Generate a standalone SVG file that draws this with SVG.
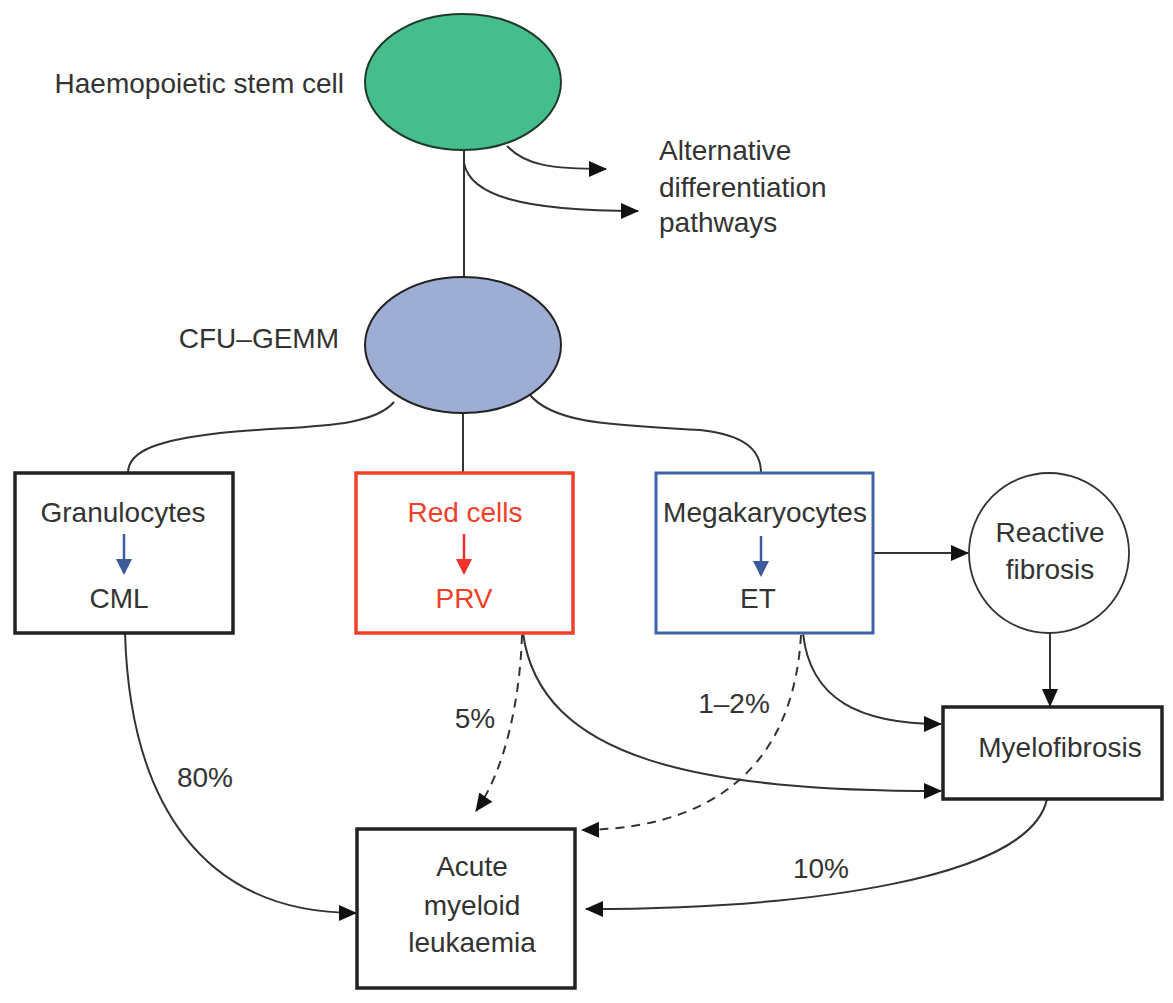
<svg xmlns="http://www.w3.org/2000/svg" width="1173" height="1003" viewBox="0 0 1173 1003">
<defs>
<style>
text{font-family:"Liberation Sans",Arial,sans-serif;font-size:28px;fill:#333;}
.c{text-anchor:middle;}
.red{fill:#f0402a;}
.ln{fill:none;stroke:#333;stroke-width:2;}
.dash{stroke-dasharray:9,7;}
.box{fill:#fff;stroke:#222;stroke-width:3.5;}
</style>
<marker id="ah" markerUnits="userSpaceOnUse" markerWidth="18" markerHeight="16" refX="17" refY="8" orient="auto">
<path d="M0,0 L18,8 L0,16 z" fill="#111"/>
</marker>
<marker id="ahb" markerUnits="userSpaceOnUse" markerWidth="16" markerHeight="16" refX="8" refY="14" orient="0">
<path d="M0,0 L16,0 L8,16 z" fill="#3d5a9a"/>
</marker>
<marker id="ahr" markerUnits="userSpaceOnUse" markerWidth="16" markerHeight="16" refX="8" refY="14" orient="0">
<path d="M0,0 L16,0 L8,16 z" fill="#f0302a"/>
</marker>
</defs>
<rect width="1173" height="1003" fill="#fff"/>

<g id="connectors">
<path class="ln" d="M464,150 L464,277"/>
<path class="ln" d="M507,146 C525,165 550,169 606,169" marker-end="url(#ah)"/>
<path class="ln" d="M464,163 C470,195 520,211 638,211" marker-end="url(#ah)"/>
<path class="ln" d="M394,402 C370,430 300,425 220,433 C160,440 128,450 128,473"/>
<path class="ln" d="M463,413 L463,473"/>
<path class="ln" d="M530,395 C555,425 620,425 700,430 C745,435 761,450 761,473"/>
<path class="ln" d="M873,553 L968,553" marker-end="url(#ah)"/>
<path class="ln" d="M1050,632 L1050,706" marker-end="url(#ah)"/>
<path class="ln" d="M125,633 C130,800 200,913 356,913" marker-end="url(#ah)"/>
<path class="ln dash" d="M522,635 C520,700 505,770 476,811" marker-end="url(#ah)"/>
<path class="ln" d="M523,633 C540,760 700,791 941,791" marker-end="url(#ah)"/>
<path class="ln dash" d="M801,635 C795,740 740,828 582,830" marker-end="url(#ah)"/>
<path class="ln" d="M803,633 C810,700 860,724 941,724" marker-end="url(#ah)"/>
<path class="ln" d="M1047,799 C1030,880 800,909 586,909" marker-end="url(#ah)"/>
</g>

<g id="stem-cell">
<ellipse cx="463" cy="82" rx="98" ry="68" fill="#45bd8c" stroke="#1d3a2a" stroke-width="2"/>
<text x="344" y="93" text-anchor="end">Haemopoietic stem cell</text>
</g>

<g id="alternative">
<text x="659" y="160">Alternative</text>
<text x="659" y="197">differentiation</text>
<text x="659" y="232">pathways</text>
</g>

<g id="cfu-gemm">
<ellipse cx="463" cy="345" rx="98" ry="68" fill="#9eadd3" stroke="#222" stroke-width="2"/>
<text x="339" y="348" text-anchor="end">CFU–GEMM</text>
</g>

<g id="granulocytes">
<rect class="box" x="15" y="473" width="218" height="160"/>
<text class="c" x="123" y="522">Granulocytes</text>
<line x1="124" y1="534" x2="124" y2="573" stroke="#3d5a9a" stroke-width="2.5" marker-end="url(#ahb)"/>
<text class="c" x="119" y="608">CML</text>
</g>

<g id="red-cells">
<rect x="356" y="473" width="217" height="160" fill="#fff" stroke="#f0402a" stroke-width="3.5"/>
<text class="c red" x="465" y="522">Red cells</text>
<line x1="464" y1="534" x2="464" y2="573" stroke="#f0302a" stroke-width="2.5" marker-end="url(#ahr)"/>
<text class="c red" x="464" y="608">PRV</text>
</g>

<g id="megakaryocytes">
<rect x="656" y="473" width="217" height="160" fill="#fff" stroke="#3e62a8" stroke-width="3"/>
<text class="c" x="765" y="522">Megakaryocytes</text>
<line x1="761" y1="536" x2="761" y2="575" stroke="#3d5a9a" stroke-width="2.5" marker-end="url(#ahb)"/>
<text class="c" x="758" y="608">ET</text>
</g>

<g id="reactive-fibrosis">
<circle cx="1049" cy="553" r="80" fill="#fff" stroke="#333" stroke-width="1.8"/>
<text class="c" x="1050" y="542">Reactive</text>
<text class="c" x="1050" y="579">fibrosis</text>
</g>

<g id="myelofibrosis">
<rect class="box" x="943" y="707" width="219" height="92"/>
<text class="c" x="1060" y="757">Myelofibrosis</text>
</g>

<g id="aml">
<rect class="box" x="357" y="829" width="218" height="159"/>
<text class="c" x="472" y="876">Acute</text>
<text class="c" x="472" y="915">myeloid</text>
<text class="c" x="472" y="952">leukaemia</text>
</g>

<g id="labels">
<text class="c" x="205" y="787">80%</text>
<text class="c" x="475" y="728">5%</text>
<text class="c" x="734" y="713">1–2%</text>
<text class="c" x="821" y="878">10%</text>
</g>
</svg>
